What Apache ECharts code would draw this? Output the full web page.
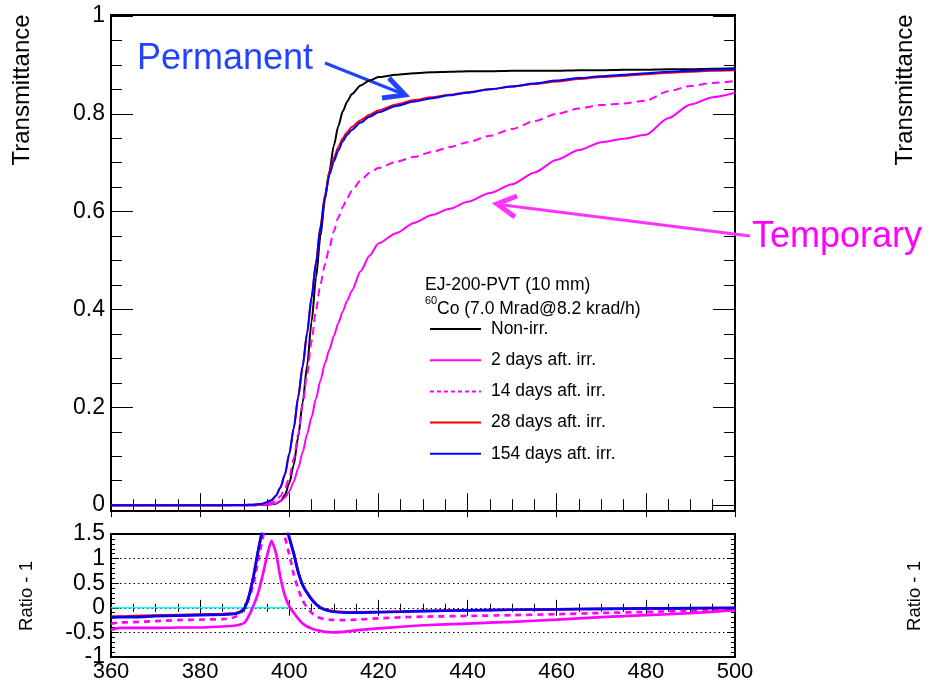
<!DOCTYPE html>
<html>
<head>
<meta charset="utf-8">
<script src="https://cdn.jsdelivr.net/npm/echarts@6/dist/echarts.min.js"></script>
<style>
html,body{margin:0;padding:0;background:#fff;}
#chart{width:933px;height:683px;}
</style>
</head>
<body>
<div id="chart"></div>
<script>
// ---------- data ----------
const wl = [360,370,380,385,390,392,394,395,396,397,398,399,400,401,402,403,404,405,406,407,408,409,410,411,412,413,414,416,418,420,424,428,432,436,440,445,450,455,460,465,470,475,480,485,490,495,500];
const nonIrr = [0,0,0,0,0,0,0.001,0.001,0.002,0.003,0.008,0.02,0.045,0.082,0.14,0.21,0.285,0.375,0.465,0.55,0.625,0.683,0.735,0.775,0.805,0.825,0.84,0.858,0.868,0.875,0.88,0.883,0.885,0.886,0.887,0.887,0.888,0.888,0.888,0.889,0.889,0.89,0.89,0.891,0.891,0.892,0.893];
const days2 = [0,0,0,0,0,0,0.001,0.001,0.002,0.004,0.008,0.015,0.028,0.048,0.075,0.108,0.145,0.18,0.218,0.255,0.29,0.318,0.346,0.372,0.396,0.418,0.438,0.478,0.51,0.535,0.556,0.577,0.593,0.606,0.62,0.638,0.656,0.68,0.706,0.726,0.742,0.749,0.757,0.791,0.819,0.834,0.843];
const days14 = [0,0,0,0,0,0,0.002,0.003,0.005,0.009,0.018,0.033,0.056,0.095,0.145,0.205,0.268,0.335,0.4,0.452,0.492,0.527,0.56,0.588,0.61,0.628,0.642,0.664,0.679,0.689,0.702,0.712,0.722,0.732,0.742,0.755,0.769,0.785,0.8,0.811,0.818,0.821,0.827,0.846,0.857,0.863,0.867];
const days28 = [0,0,0,0,0.0005,0.001,0.003,0.006,0.01,0.019,0.036,0.062,0.105,0.157,0.221,0.284,0.352,0.425,0.497,0.57,0.634,0.681,0.71,0.732,0.75,0.763,0.773,0.787,0.798,0.807,0.819,0.828,0.834,0.839,0.844,0.85,0.856,0.861,0.866,0.871,0.875,0.878,0.881,0.884,0.886,0.888,0.889];
const days154 = [0,0,0,0,0.0005,0.001,0.003,0.006,0.01,0.019,0.036,0.062,0.105,0.157,0.221,0.284,0.352,0.425,0.495,0.568,0.63,0.675,0.703,0.725,0.744,0.757,0.767,0.782,0.794,0.803,0.816,0.825,0.832,0.838,0.843,0.85,0.856,0.862,0.868,0.873,0.877,0.88,0.883,0.886,0.888,0.89,0.891];

const wlR = [360,362,365,370,375,380,385,387,388,389,390,391,392,393,394,395,396,397,398,399,400,401,402,403,404,405,406,407,408,409,410,412,414,416,420,425,430,440,450,460,470,480,490,500];
const ratio2 = [-0.45,-0.41,-0.41,-0.41,-0.40,-0.40,-0.38,-0.37,-0.36,-0.34,-0.30,-0.15,0.05,0.3,0.65,1.05,1.36,1.12,0.62,0.25,0.03,-0.1,-0.22,-0.32,-0.38,-0.42,-0.45,-0.47,-0.49,-0.495,-0.5,-0.49,-0.47,-0.45,-0.42,-0.385,-0.355,-0.32,-0.285,-0.24,-0.19,-0.15,-0.11,-0.05];
const ratio14 = [-0.32,-0.30,-0.29,-0.27,-0.25,-0.24,-0.23,-0.21,-0.18,-0.12,0.0,0.2,0.5,0.95,1.4,1.8,2.0,2.0,1.8,1.45,1.08,0.68,0.38,0.15,0.0,-0.1,-0.17,-0.21,-0.23,-0.24,-0.245,-0.25,-0.245,-0.235,-0.215,-0.195,-0.18,-0.165,-0.15,-0.13,-0.105,-0.085,-0.06,-0.035];
const ratio28 = [-0.18,-0.18,-0.17,-0.16,-0.15,-0.14,-0.13,-0.12,-0.11,-0.08,0.01,0.26,0.66,1.16,1.6,2.0,2.2,2.2,2.0,1.76,1.43,1.11,0.73,0.47,0.31,0.18,0.08,0.01,-0.03,-0.058,-0.072,-0.088,-0.093,-0.092,-0.085,-0.075,-0.065,-0.05,-0.04,-0.031,-0.022,-0.016,-0.01,-0.005];
const ratio154 = [-0.20,-0.19,-0.19,-0.17,-0.16,-0.15,-0.14,-0.13,-0.12,-0.09,0.0,0.25,0.65,1.15,1.6,2.0,2.2,2.2,2.0,1.75,1.42,1.1,0.72,0.46,0.3,0.17,0.07,0.0,-0.04,-0.065,-0.08,-0.095,-0.1,-0.098,-0.09,-0.08,-0.068,-0.052,-0.04,-0.03,-0.02,-0.013,-0.007,-0.002];
const refX = [360,400];
const refY = [0,0];

const yMajorTop = [0,0.2,0.4,0.6,0.8,1];
const yMinorTop = [0.05,0.1,0.15,0.25,0.3,0.35,0.45,0.5,0.55,0.65,0.7,0.75,0.85,0.9,0.95];

const names = ['Non-irr.','2 days aft. irr.','14 days aft. irr.','28 days aft. irr.','154 days aft. irr.'];

// ---------- chart ----------
const FONT = '"Liberation Sans", Arial, Helvetica, sans-serif';
const zip = (xs, ys) => xs.map((x, i) => [x, ys[i]]);
const chart = echarts.init(document.getElementById('chart'), null, {renderer: 'canvas'});

function xAx(grid, pos, major, minor, labels) {
  return {
    type: 'value', gridIndex: grid, position: pos, min: 360, max: 500, interval: 20,
    axisLine: {show: false},
    axisTick: {show: true, inside: true, length: major, lineStyle: {color: '#000', width: 1}},
    minorTick: {show: true, splitNumber: 4, length: minor, lineStyle: {color: '#000', width: 1}},
    axisLabel: labels ? {show: true, fontSize: 22, fontFamily: FONT, color: '#000', margin: 4,
      showMinLabel: true, showMaxLabel: true} : {show: false},
    splitLine: {show: false}
  };
}
function yTop(pos, vals, len, labels) {
  return {
    type: 'value', gridIndex: 0, position: pos, min: -0.012, max: 1.002,
    axisLine: {show: false},
    axisTick: {show: true, inside: true, length: len, customValues: vals, lineStyle: {color: '#000', width: 1}},
    axisLabel: labels ? {show: true, customValues: vals, fontSize: 23, fontFamily: FONT, color: '#000', margin: 6} : {show: false},
    splitLine: {show: false}
  };
}
function yBot(pos, labels) {
  return {
    type: 'value', gridIndex: 1, position: pos, min: -1, max: 1.5, interval: 0.5,
    axisLine: {show: false},
    axisTick: {show: true, inside: true, length: 8, lineStyle: {color: '#000', width: 1}},
    minorTick: {show: true, splitNumber: 5, length: 4, lineStyle: {color: '#000', width: 1}},
    axisLabel: labels ? {show: true, fontSize: 23, fontFamily: FONT, color: '#000', margin: 6,
      showMinLabel: true, showMaxLabel: true} : {show: false},
    splitLine: labels ? {show: true, lineStyle: {color: '#000', type: [1.5, 3], width: 1}} : {show: false}
  };
}

function topLine(name, data, color, dashed) {
  return {
    name: name, type: 'line', xAxisIndex: 0, yAxisIndex: 0, data: zip(wl, data),
    symbol: 'none', smooth: 0.25, smoothMonotone: 'x',
    lineStyle: {color: color, width: 2, type: dashed ? [8, 5] : 'solid'},
    itemStyle: {color: color}
  };
}
function botLine(name, data, color, dashed) {
  return {
    name: name, type: 'line', xAxisIndex: 2, yAxisIndex: 4, data: zip(wlR, data),
    symbol: 'none', smooth: 0.2, clip: true,
    lineStyle: {color: color, width: 2.7, type: dashed ? [6, 5] : 'solid'},
    itemStyle: {color: color}
  };
}

const BLUE_TXT = '#2244ff';
const MAG = '#ff00ff';

const option = {
  animation: false,
  backgroundColor: '#fff',
  textStyle: {fontFamily: FONT},
  grid: [
    {left: 111, top: 15, width: 624, height: 496, show: true, borderColor: '#000', borderWidth: 2, backgroundColor: 'transparent'},
    {left: 111, top: 534, width: 624, height: 125, show: true, borderColor: '#000', borderWidth: 2, backgroundColor: 'transparent'}
  ],
  xAxis: [
    xAx(0, 'bottom', 12, 6, false),
    xAx(0, 'top', 12, 6, false),
    xAx(1, 'bottom', 8, 4, true),
    xAx(1, 'top', 8, 4, false)
  ],
  yAxis: [
    yTop('left', yMajorTop, 22, true),
    yTop('left', yMinorTop, 11, false),
    yTop('right', yMajorTop, 22, false),
    yTop('right', yMinorTop, 11, false),
    yBot('left', true),
    yBot('right', false)
  ],
  legend: {
    data: [
      {name: names[0]},
      {name: names[1]},
      {name: names[2], lineStyle: {type: [4, 3]}},
      {name: names[3]},
      {name: names[4]}
    ],
    orient: 'vertical',
    left: 429, top: 320,
    padding: 0,
    itemWidth: 51, itemHeight: 14, itemGap: 13.2,
    itemStyle: {opacity: 0},
    textStyle: {fontSize: 17.5, fontFamily: FONT, color: '#000', padding: [0, 0, 0, 5]},
    selectedMode: false
  },
  series: [
    topLine(names[0], nonIrr, '#000000', false),
    topLine(names[1], days2, MAG, false),
    topLine(names[2], days14, MAG, true),
    topLine(names[3], days28, '#ff0000', false),
    topLine(names[4], days154, '#0000ff', false),
    {name: 'ref', type: 'line', xAxisIndex: 2, yAxisIndex: 4, data: zip(refX, refY), symbol: 'none',
     lineStyle: {color: '#00ffff', width: 1.5}, z: 1},
    botLine(names[1], ratio2, MAG, false),
    botLine(names[2], ratio14, MAG, true),
    botLine(names[3], ratio28, '#ff0000', false),
    botLine(names[4], ratio154, '#0000ff', false)
  ],
  graphic: [
    {type: 'text', x: 22, y: 90, rotation: Math.PI / 2,
     style: {text: 'Transmittance', fontSize: 24, fontFamily: FONT, fill: '#000', align: 'center', verticalAlign: 'middle', textAlign: 'center', textVerticalAlign: 'middle'}},
    {type: 'text', x: 905, y: 90, rotation: Math.PI / 2,
     style: {text: 'Transmittance', fontSize: 24, fontFamily: FONT, fill: '#000', align: 'center', verticalAlign: 'middle', textAlign: 'center', textVerticalAlign: 'middle'}},
    {type: 'text', x: 27, y: 596, rotation: Math.PI / 2,
     style: {text: 'Ratio - 1', fontSize: 18.5, fontFamily: FONT, fill: '#000', align: 'center', verticalAlign: 'middle', textAlign: 'center', textVerticalAlign: 'middle'}},
    {type: 'text', x: 915, y: 596, rotation: Math.PI / 2,
     style: {text: 'Ratio - 1', fontSize: 18.5, fontFamily: FONT, fill: '#000', align: 'center', verticalAlign: 'middle', textAlign: 'center', textVerticalAlign: 'middle'}},
    // legend header
    {type: 'text', x: 425, y: 285,
     style: {text: 'EJ-200-PVT (10 mm)', fontSize: 17.5, fontFamily: FONT, fill: '#000', align: 'left', verticalAlign: 'middle', textAlign: 'left', textVerticalAlign: 'middle'}},
    {type: 'text', x: 425, y: 301,
     style: {text: '60', fontSize: 11, fontFamily: FONT, fill: '#000', align: 'left', verticalAlign: 'middle', textAlign: 'left', textVerticalAlign: 'middle'}},
    {type: 'text', x: 437, y: 309,
     style: {text: 'Co (7.0 Mrad@8.2 krad/h)', fontSize: 17.5, fontFamily: FONT, fill: '#000', align: 'left', verticalAlign: 'middle', textAlign: 'left', textVerticalAlign: 'middle'}},
    // annotations
    {type: 'text', x: 137, y: 59,
     style: {text: 'Permanent', fontSize: 36, fontFamily: FONT, fill: BLUE_TXT, align: 'left', verticalAlign: 'middle', textAlign: 'left', textVerticalAlign: 'middle'}},
    {type: 'polyline', shape: {points: [[325, 63], [403, 94]]}, style: {stroke: BLUE_TXT, lineWidth: 3, fill: null}},
    {type: 'polyline', shape: {points: [[389, 78], [405, 95], [382, 98]]}, style: {stroke: BLUE_TXT, lineWidth: 5, fill: null, lineJoin: 'miter'}},
    {type: 'text', x: 752, y: 237,
     style: {text: 'Temporary', fontSize: 36, fontFamily: FONT, fill: MAG, align: 'left', verticalAlign: 'middle', textAlign: 'left', textVerticalAlign: 'middle'}},
    {type: 'polyline', shape: {points: [[750, 236], [499, 204.5]]}, style: {stroke: '#ff33ff', lineWidth: 3, fill: null}},
    {type: 'polyline', shape: {points: [[517, 196], [497, 204], [515, 217]]}, style: {stroke: '#ff33ff', lineWidth: 5, fill: null, lineJoin: 'miter'}}
  ]
};
chart.setOption(option);
</script>
</body>
</html>
